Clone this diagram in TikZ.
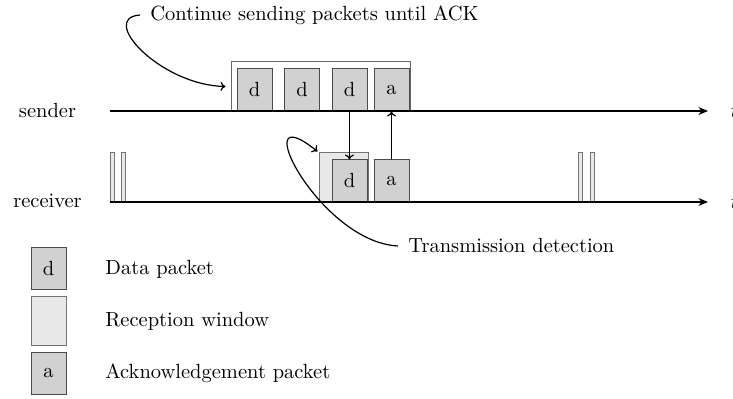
\documentclass[tikz,border=0pt]{standalone}
\usetikzlibrary{arrows.meta}
\begin{document}
\begin{tikzpicture}[x=0.5pt,y=-0.5pt,
  every node/.style={font=\fontsize{10.25}{12.3}\selectfont},
  pkt/.style={draw=black!70, fill=black!18, line width=0.5pt, inner sep=0pt,
    minimum width=17.5pt, minimum height=21pt},
  rxwin/.style={draw=black!55, fill=black!9, line width=0.5pt, inner sep=0pt,
    minimum height=24.5pt},
  txframe/.style={draw=black!60, fill=white, line width=0.5pt, inner sep=0pt,
    minimum width=89.5pt, minimum height=24.5pt},
  axis/.style={line width=0.6pt, -{Stealth[length=4.8pt,width=4pt]}},
  msg/.style={line width=0.6pt, -{To[length=2.5pt,width=4.5pt]}},
  note/.style={line width=0.6pt, -{To[length=2.5pt,width=4.5pt]}},
  lbl/.style={inner ysep=0pt, inner xsep=5pt},
  lgd/.style={anchor=west, inner sep=0pt}
]
\useasboundingbox (0,0) rectangle (733,399);

% sending period and packets on the sender line
\node[txframe] (frame) at (320.5,86.5) {};
\node[pkt] (sd1) at (254.5,90) {d};
\node[pkt] (sd2) at (302,90) {d};
\node[pkt] (sd3) at (349.5,90) {d};
\node[pkt] (sa)  at (391.5,90) {a};

% reception windows and packets on the receiver line
\node[rxwin, minimum width=2pt] (w1) at (112,177.5) {};
\node[rxwin, minimum width=2pt] (w2) at (123,177.5) {};
\node[rxwin, minimum width=2pt] (w3) at (580,177.5) {};
\node[rxwin, minimum width=2pt] (w4) at (592,177.5) {};
\node[rxwin, minimum width=24.5pt] (rw) at (343.5,177.5) {};
\node[pkt] (rd) at (349.5,181) {d};
\node[pkt] (ra) at (391.5,181) {a};

% time axes
\coordinate (s0) at (110,111);
\coordinate (s1) at (708,111);
\coordinate (r0) at (110,202);
\coordinate (r1) at (708,202);
\draw[axis] (s0) -- (s1);
\draw[axis] (r0) -- (r1);
\node[anchor=base] (snd) at (47.5,118) {sender};
\node[anchor=base] (rcv) at (47.5,208) {receiver};
\node[anchor=west, inner sep=0pt] (ts) at (730.5,111) {$t$};
\node[anchor=west, inner sep=0pt] (tr) at (730.5,202) {$t$};

% data packet and acknowledgement
\draw[msg] (sd3.south) -- (rd.north);
\draw[msg] (ra.north) -- (sa.south);

% annotations
\node[lbl, anchor=west] (cont) at (140,15) {Continue sending packets until ACK};
\draw[note] (cont.west) .. controls (98,18) and (160,85) .. ([xshift=-2.5pt]frame.west);
\node[lbl, anchor=west] (det) at (398,246) {Transmission detection};
\draw[note] (det.west) .. controls (318,242) and (244,92) .. ([xshift=-0.5pt,yshift=0.5pt]rw.north west);

% legend
\node[pkt] (ld) at (48.5,269) {d};
\node[rxwin, minimum width=17.5pt] (lw) at (48.5,321.5) {};
\node[pkt] (la) at (48.5,373.5) {a};
\node[lgd] (tld) at (105,269) {Data packet};
\node[lgd] (tlw) at (105,321.5) {Reception window};
\node[lgd] (tla) at (105,373.5) {Acknowledgement packet};
\end{tikzpicture}
\end{document}
